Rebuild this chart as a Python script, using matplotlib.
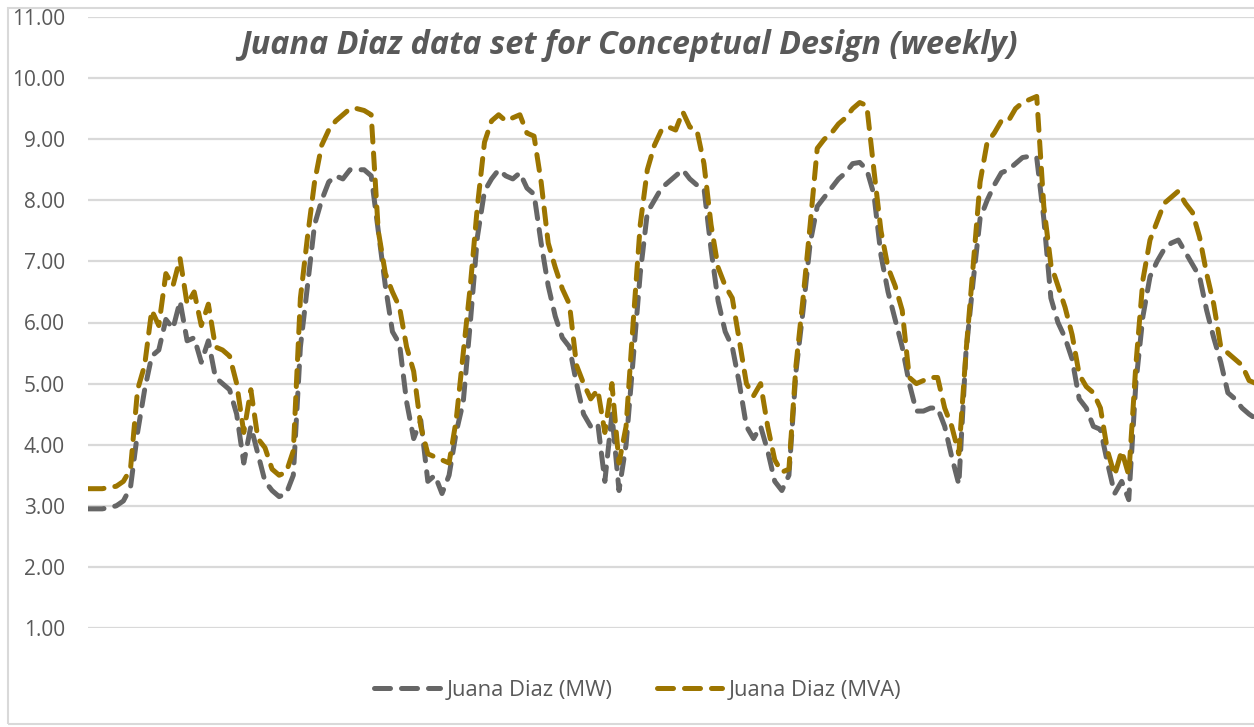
import numpy as np
import matplotlib
matplotlib.use("Agg")
import matplotlib.pyplot as plt
from matplotlib.lines import Line2D

# hourly readings for one week
mw = [2.95, 2.95, 2.95, 2.97, 3.0, 3.08, 3.3, 4.2, 4.9, 5.45,
      5.55, 6.05, 5.9, 6.35, 5.7, 5.75, 5.35, 5.7, 5.1, 5.0,
      4.9, 4.5, 3.7, 4.3, 3.85, 3.4, 3.25, 3.15, 3.2, 3.5,
      5.6, 6.6, 7.6, 8.0, 8.3, 8.4, 8.35, 8.5, 8.5, 8.5,
      8.4, 7.5, 6.6, 5.85, 5.65, 4.7, 4.1, 4.4, 3.4, 3.5,
      3.2, 3.5, 4.2, 4.7, 6.0, 7.4, 8.15, 8.35, 8.5, 8.4,
      8.35, 8.45, 8.2, 8.1, 7.3, 6.6, 6.1, 5.75, 5.6, 5.0,
      4.5, 4.3, 4.35, 3.4, 4.5, 3.25, 4.0, 5.4, 6.8, 7.8,
      8.0, 8.2, 8.3, 8.4, 8.5, 8.35, 8.25, 8.2, 7.2, 6.35,
      5.85, 5.6, 5.0, 4.3, 4.1, 4.3, 3.9, 3.4, 3.25, 3.5,
      5.2, 6.2, 7.3, 7.9, 8.05, 8.2, 8.35, 8.45, 8.6, 8.62,
      8.5, 8.1, 7.1, 6.5, 6.05, 5.6, 5.0, 4.55, 4.55, 4.6,
      4.6, 4.3, 3.8, 3.35, 5.5, 6.65, 7.7, 8.0, 8.25, 8.45,
      8.5, 8.6, 8.7, 8.72, 8.7, 7.7, 6.4, 6.0, 5.75, 5.4,
      4.75, 4.6, 4.3, 4.25, 3.7, 3.2, 3.4, 3.1, 5.0, 6.1,
      6.75, 7.0, 7.2, 7.3, 7.35, 7.15, 6.95, 6.75, 6.2, 5.75,
      5.35, 4.85, 4.75, 4.6, 4.5, 4.42]

mva = [3.28, 3.28, 3.28, 3.3, 3.32, 3.4, 3.6, 4.9, 5.3, 6.2,
       5.95, 6.8, 6.6, 7.05, 6.3, 6.5, 5.95, 6.3, 5.6, 5.55,
       5.45, 5.0, 4.2, 4.9, 4.1, 3.95, 3.6, 3.5, 3.55, 3.9,
       6.4, 7.4, 8.3, 8.9, 9.15, 9.3, 9.4, 9.5, 9.5, 9.47,
       9.4, 7.5, 6.8, 6.5, 6.25, 5.6, 5.2, 4.3, 3.85, 3.8,
       3.75, 3.7, 4.4, 5.5, 6.6, 7.9, 8.95, 9.3, 9.4, 9.3,
       9.35, 9.4, 9.1, 9.05, 8.3, 7.3, 6.9, 6.55, 6.3, 5.3,
       5.0, 4.75, 4.9, 4.2, 5.0, 3.7, 4.3, 6.0, 7.6, 8.5,
       8.9, 9.15, 9.2, 9.15, 9.45, 9.2, 9.15, 8.6, 7.6, 6.9,
       6.6, 6.4, 5.7, 5.0, 4.8, 5.0, 4.3, 3.75, 3.55, 3.6,
       5.3, 6.4, 7.6, 8.85, 9.0, 9.1, 9.25, 9.35, 9.5, 9.6,
       9.55, 8.5, 7.5, 6.9, 6.6, 6.2, 5.1, 5.0, 5.05, 5.1,
       5.1, 4.6, 4.3, 3.85, 5.5, 6.9, 8.3, 8.95, 9.1, 9.3,
       9.3, 9.5, 9.6, 9.65, 9.7, 7.9, 6.95, 6.6, 6.25, 5.8,
       5.15, 4.95, 4.85, 4.6, 3.9, 3.5, 3.9, 3.5, 5.3, 6.7,
       7.35, 7.65, 7.95, 8.05, 8.15, 7.95, 7.8, 7.4, 6.8, 6.3,
       5.6, 5.5, 5.4, 5.3, 5.05, 5.0]

labels = ["Juana Diaz (MW)", "Juana Diaz (MVA)"]
yticks = np.arange(1, 12)
hours = np.arange(len(mw))

gray = "#666666"
gold = "#9C7500"
txt = "#595959"
plt.rcParams["font.family"] = ["Open Sans", "DejaVu Sans"]

W, H = 1254, 727
fig = plt.figure(figsize=(W / 100, H / 100), dpi=100)

# plot area in pixel terms: x from 88 to past the right edge, 11.00 at y=17, 1.00 at y=628
ax = fig.add_axes([88 / W, 1 - 628 / H, 1 - 88 / W, (628 - 17) / H])
ax.set_xlim(0, (W - 88) / 7.08)
ax.set_ylim(1, 11)

for vals, c in [(mw, gray), (mva, gold)]:
    ax.plot(hours, vals, color=c, lw=3.6, dashes=(3.2, 2.2),
            dash_capstyle="round", solid_capstyle="round")

ax.set_yticks(yticks)
ax.set_yticklabels([f"{v:.2f}" for v in yticks], color=txt, fontsize=15)
ax.tick_params(axis="y", length=0, pad=16.5)
ax.set_xticks([])
ax.grid(axis="y", color="#d9d9d9", lw=1.6)
ax.set_axisbelow(True)
for s in ax.spines.values():
    s.set_visible(False)
for lab in ax.get_yticklabels():
    lab.set_clip_on(False)

fig.text(629 / W, 1 - 46 / H, "Juana Diaz data set for Conceptual Design (weekly)",
         ha="center", va="center", fontsize=23.3, fontweight="bold",
         fontstyle="italic", color=txt)

handles = [Line2D([], [], color=c, lw=3.6, dashes=(3.2, 2.2), dash_capstyle="round")
           for c in (gray, gold)]
fig.legend(handles, labels, loc="center", bbox_to_anchor=(638 / W, 1 - 690 / H),
           ncol=2, frameon=False, fontsize=15.8, labelcolor=txt,
           handlelength=3.0, handletextpad=0.3, columnspacing=2.0)

# chart outer border (left, top, bottom visible)
border = plt.Rectangle((8 / W, 3 / H), 1.2, 1 - 11 / H, transform=fig.transFigure,
                       fill=False, ec="#d9d9d9", lw=1.5)
fig.add_artist(border)

fig.savefig("out.png", dpi=100, facecolor="white")
